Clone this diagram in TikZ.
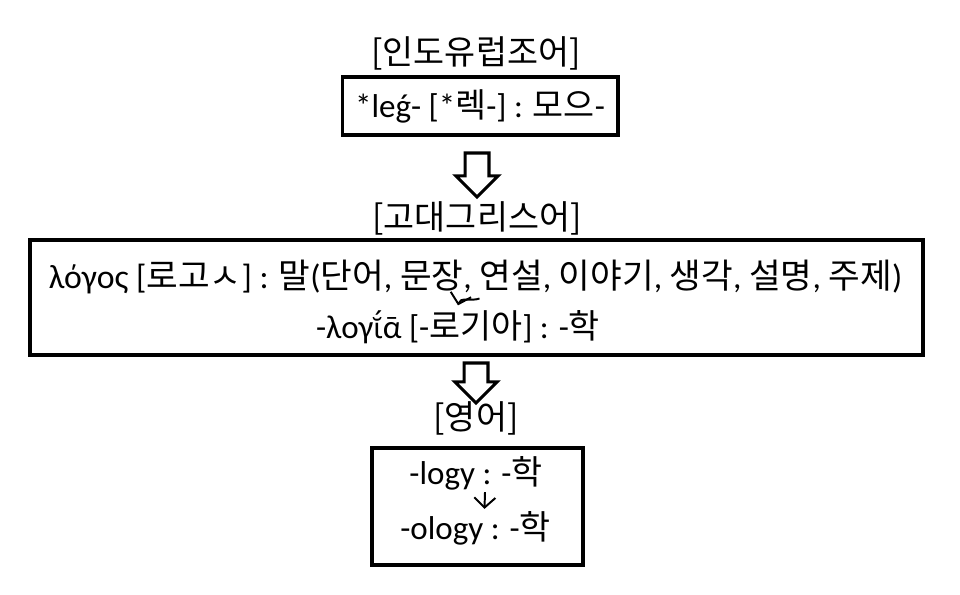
\documentclass[tikz,border=0pt]{standalone}
\usepackage{fontspec}
\setmainfont{Carlito}
\newfontfamily\kr{Noto Sans CJK KR}[Scale=1.02]
\newfontfamily\grk{Noto Sans}[Scale=0.86]
\usepackage{tikz}
\usetikzlibrary{
arrows.meta,
shapes.arrows,
calc
}

\begin{document}
\begin{tikzpicture}[
  x=0.025cm, y=-0.025cm,
  >={Straight Barb[length=7pt, width=15pt]},
  every node/.style={font=\fontsize{23.5}{28}\selectfont, inner sep=0pt},
  langlabel/.style={font=\fontsize{23.5}{28}\selectfont\kr},
  wordbox/.style={draw, line width=2.8pt},
  bigarrow/.style={single arrow, draw, line width=2.2pt, rotate=-90,
                   inner xsep=0pt, inner ysep=0.26cm,
                   single arrow head extend=0.23cm,
                   minimum height=1.1cm},
  arrow/.style={->, line width=1.4pt}
]
\useasboundingbox (0,0) rectangle (960,594);

%% Proto-Indo-European
\node[langlabel] (pielabel) at (476, 53) {[인도유럽조어]};
\node[wordbox, minimum width=6.875cm, minimum height=1.45cm] (pie)
  at (480, 106) {*leǵ- [*{\kr 렉}-] : {\kr 모으}-};

\node[bigarrow] (down1) at (477, 169) {};

%% Ancient Greek
\node[langlabel] (greeklabel) at (477, 218) {[고대그리스어]};
\node[wordbox, minimum width=22.325cm, minimum height=2.875cm] (greek)
  at (476.5, 297.5) {};
\node[font=\fontsize{24}{28}\selectfont] (logos) at (475.5, 277)
  {λόγος [{\kr 로고ㅅ}] : {\kr 말}({\kr 단어}, {\kr 문장}, {\kr 연설},
   {\kr 이야기}, {\kr 생각}, {\kr 설명}, {\kr 주제})};
\node (logia) at (458, 327) {-λογ{\grk ῐ́}ᾱ [-{\kr 로기아}] : -{\kr 학}};

\draw[arrow] ($(logos.base)+(4,10)$) to[out=200, in=75]
  ($(logia.base)+(0,-33)$);

\node[bigarrow, minimum height=1cm] (down2) at (476, 377) {};

%% English
\node[langlabel] (englabel) at (476, 418) {[영어]};
\node[wordbox, minimum width=5.275cm, minimum height=2.925cm] (eng)
  at (477.5, 506.5) {};
\node (logy) at (476, 473) {-logy : -{\kr 학}};
\node (ology) at (475.5, 528) {-ology : -{\kr 학}};

\draw[arrow] ($(logy.south)+(9,2)$) -- ($(ology.north)+(9,-2)$);

\end{tikzpicture}
\end{document}
